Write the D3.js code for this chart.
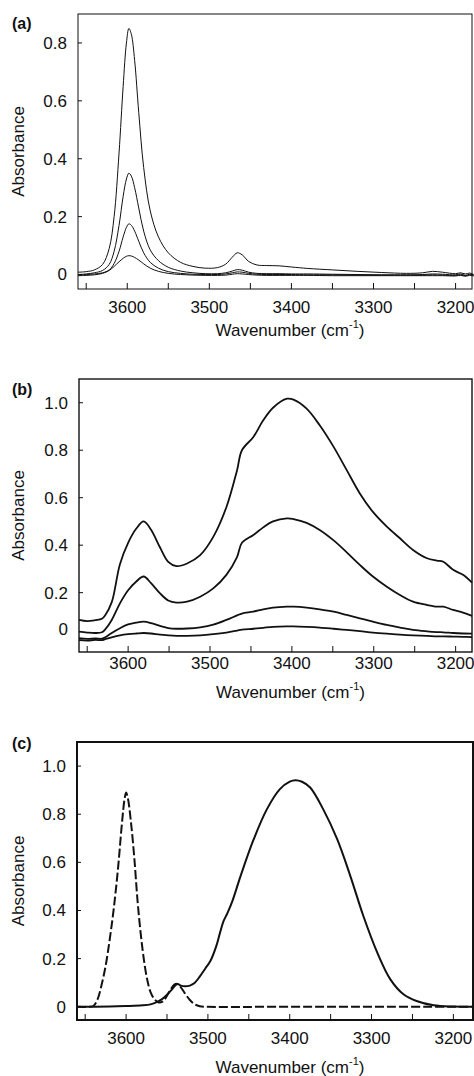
<!DOCTYPE html>
<html>
<head>
<meta charset="utf-8">
<script src="https://cdn.jsdelivr.net/npm/d3@7"></script>
<style>
  body { margin: 0; background: #fff; }
  svg text { font-family: "Liberation Sans", Arial, sans-serif; fill: #111; }
</style>
</head>
<body>
<svg></svg>
<script>
let w = 474;
let h = 1076;

// ---- panel (a) : four spectra, thin lines
var wnA = [3660,3650,3640,3630,3622,3616,3610,3605,3601,3598,3595,3591,3586,3580,3572,3562,3550,3535,3520,3505,3490,3480,3472,3466,3460,3452,3442,3430,3415,3400,3380,3350,3320,3290,3260,3240,3228,3216,3200,3194,3188,3183,3178];
var absA1 = [0.008,0.010,0.016,0.035,0.09,0.20,0.42,0.65,0.80,0.85,0.83,0.74,0.56,0.37,0.22,0.13,0.075,0.042,0.028,0.022,0.024,0.036,0.060,0.075,0.068,0.045,0.033,0.031,0.030,0.026,0.021,0.016,0.011,0.007,0.004,0.006,0.011,0.008,0.003,0.006,0.002,0.005,0.000];
var absA2 = [0.000,0.002,0.006,0.014,0.035,0.08,0.17,0.27,0.33,0.35,0.34,0.30,0.23,0.15,0.085,0.048,0.025,0.012,0.006,0.003,0.003,0.006,0.012,0.017,0.015,0.008,0.004,0.003,0.003,0.002,0.002,0.001,0.000,-0.001,-0.001,0.000,0.002,0.001,-0.001,0.002,-0.003,0.001,-0.002];
var absA3 = [-0.002,0.000,0.002,0.006,0.016,0.038,0.08,0.13,0.163,0.175,0.17,0.15,0.115,0.075,0.042,0.022,0.010,0.004,0.001,0.000,0.000,0.002,0.006,0.009,0.008,0.004,0.001,0.000,0.000,0.000,-0.001,-0.001,-0.002,-0.002,-0.002,-0.002,-0.001,-0.002,-0.003,-0.001,-0.004,-0.001,-0.003];
var absA4 = [-0.004,-0.003,-0.001,0.004,0.014,0.028,0.044,0.056,0.063,0.065,0.064,0.059,0.050,0.037,0.022,0.011,0.004,0.000,-0.002,-0.003,-0.003,-0.002,0.001,0.003,0.002,0.000,-0.002,-0.003,-0.003,-0.003,-0.003,-0.004,-0.004,-0.004,-0.004,-0.004,-0.004,-0.004,-0.005,-0.003,-0.006,-0.003,-0.005];

// ---- panel (b) : four spectra, thick lines
var wnB = [3660,3650,3640,3632,3628,3620,3610,3600,3590,3581,3572,3561,3551,3541,3528,3512,3496,3480,3467,3461,3447,3435,3423,3406,3398,3382,3366,3349,3333,3317,3301,3284,3268,3252,3235,3223,3215,3203,3191,3180];
var absB1 = [0.085,0.080,0.084,0.090,0.105,0.16,0.32,0.41,0.47,0.50,0.465,0.39,0.33,0.312,0.323,0.358,0.435,0.56,0.715,0.80,0.856,0.926,0.979,1.017,1.013,0.975,0.905,0.814,0.716,0.618,0.54,0.478,0.429,0.38,0.345,0.335,0.33,0.296,0.275,0.242];
var absB2 = [0.036,0.032,0.030,0.033,0.045,0.085,0.155,0.21,0.247,0.268,0.24,0.197,0.167,0.158,0.162,0.183,0.218,0.275,0.35,0.41,0.443,0.475,0.50,0.513,0.51,0.494,0.464,0.42,0.37,0.317,0.268,0.225,0.19,0.162,0.148,0.141,0.141,0.127,0.116,0.102];
var absB3 = [0.008,0.005,0.007,0.006,0.012,0.03,0.05,0.066,0.074,0.078,0.072,0.06,0.051,0.048,0.049,0.054,0.065,0.085,0.104,0.112,0.12,0.13,0.137,0.141,0.141,0.137,0.13,0.12,0.106,0.092,0.078,0.064,0.053,0.043,0.037,0.034,0.033,0.030,0.028,0.027];
var absB4 = [0.000,-0.002,0.001,0.000,0.004,0.012,0.02,0.025,0.028,0.030,0.028,0.023,0.020,0.018,0.018,0.020,0.025,0.032,0.040,0.044,0.048,0.052,0.056,0.058,0.058,0.056,0.053,0.048,0.043,0.038,0.032,0.027,0.023,0.020,0.018,0.016,0.016,0.015,0.014,0.013];

// ---- panel (c) : dashed and solid band
var wnCd = [3660,3645,3640,3635,3630,3625,3620,3615,3610,3605,3602,3600,3598,3594,3590,3586,3582,3578,3574,3570,3565,3560,3556,3552,3546,3541,3538,3534,3528,3522,3516,3510,3500,3400,3300,3176];
var absCd = [0,0,0.003,0.03,0.09,0.17,0.28,0.41,0.57,0.765,0.86,0.89,0.87,0.765,0.62,0.44,0.30,0.19,0.11,0.06,0.03,0.018,0.02,0.035,0.07,0.092,0.095,0.085,0.055,0.028,0.01,0.002,0,0,0,0];
var wnCs = [3660,3620,3600,3580,3570,3564,3556,3550,3545,3540,3537,3533,3528,3522,3516,3510,3503,3497,3490,3485,3481,3476,3470,3460,3444,3428,3412,3400,3393,3385,3375,3359,3342,3326,3310,3293,3277,3261,3245,3224,3200,3176];
var absCs = [0,0.001,0.003,0.006,0.01,0.017,0.032,0.05,0.068,0.088,0.095,0.088,0.085,0.088,0.10,0.125,0.16,0.19,0.25,0.31,0.355,0.39,0.44,0.544,0.696,0.82,0.904,0.935,0.941,0.935,0.911,0.82,0.696,0.544,0.377,0.225,0.114,0.052,0.024,0.006,0.001,0];

var xTicks = [3650,3600,3550,3500,3450,3400,3350,3300,3250,3200];
var xTickLabels = [3600,3500,3400,3300,3200];
var yTicksA = [0,0.2,0.4,0.6,0.8];
var yTicksBC = [0,0.2,0.4,0.6,0.8,1.0];

var panels = [
  { tag: "(a)", left: 78, right: 472, top: 14, bottom: 289, xDom: [3660, 3180], yDom: [-0.05, 0.9], yTicks: yTicksA,
    frame: 1, lw: 1, tickY: 307, labelY: 330, tagY: 23, zeroShift: 0,
    series: [[wnA, absA1, false], [wnA, absA2, false], [wnA, absA3, false], [wnA, absA4, false]] },
  { tag: "(b)", left: 79, right: 472, top: 379, bottom: 652, xDom: [3660, 3180], yDom: [-0.05, 1.1], yTicks: yTicksBC,
    frame: 1.4, lw: 1.8, tickY: 663, labelY: 692, tagY: 389, zeroShift: -11,
    series: [[wnB, absB1, false], [wnB, absB2, false], [wnB, absB3, false], [wnB, absB4, false]] },
  { tag: "(c)", left: 77, right: 473, top: 742, bottom: 1020, xDom: [3660, 3176], yDom: [-0.055, 1.1], yTicks: yTicksBC,
    frame: 2, lw: 2, tickY: 1038, labelY: 1067, tagY: 743, zeroShift: 0,
    series: [[wnCd, absCd, true], [wnCs, absCs, false]] }
];

var svg = d3.select("svg").attr("width", w).attr("height", h);

panels.forEach(function (p) {
  var x = d3.scaleLinear().domain(p.xDom).range([p.left, p.right]);
  var y = d3.scaleLinear().domain(p.yDom).range([p.bottom, p.top]);
  var g = svg.append("g");

  // spectra
  var line = d3.line()
    .x(function (d) { return x(d[0]); })
    .y(function (d) { return y(d[1]); })
    .curve(d3.curveCatmullRom.alpha(0.5));

  p.series.forEach(function (s) {
    var pts = s[0].map(function (v, i) { return [v, s[1][i]]; });
    g.append("path")
      .attr("d", line(pts))
      .attr("fill", "none")
      .attr("stroke", "#111")
      .attr("stroke-width", p.lw)
      .attr("stroke-dasharray", s[2] ? "9,3" : null);
  });

  // frame
  g.append("rect")
    .attr("x", p.left).attr("y", p.top)
    .attr("width", p.right - p.left).attr("height", p.bottom - p.top)
    .attr("fill", "none").attr("stroke", "#111").attr("stroke-width", p.frame);

  // bottom ticks, pointing inward
  g.selectAll(".xt").data(xTicks).enter().append("line")
    .attr("x1", function (d) { return x(d); }).attr("x2", function (d) { return x(d); })
    .attr("y1", p.bottom).attr("y2", p.bottom - 6)
    .attr("stroke", "#111").attr("stroke-width", 1);

  g.selectAll(".xl").data(xTickLabels).enter().append("text")
    .attr("x", function (d) { return x(d); })
    .attr("y", p.tickY).attr("dy", "0.35em")
    .attr("text-anchor", "middle").attr("font-size", 17)
    .text(function (d) { return d; });

  // left ticks
  g.selectAll(".yt").data(p.yTicks).enter().append("line")
    .attr("x1", p.left).attr("x2", p.left + 4)
    .attr("y1", function (d) { return y(d); }).attr("y2", function (d) { return y(d); })
    .attr("stroke", "#111").attr("stroke-width", 1);

  g.selectAll(".yl").data(p.yTicks).enter().append("text")
    .attr("x", p.left - 11)
    .attr("y", function (d) { return y(d) + (d === 0 ? p.zeroShift : 0); })
    .attr("dy", "0.35em")
    .attr("text-anchor", "end").attr("font-size", 17)
    .text(function (d) { return d === 0 ? "0" : d3.format(".1f")(d); });

  // axis titles
  g.append("text")
    .attr("transform", "translate(18," + (p.top + p.bottom) / 2 + ") rotate(-90)")
    .attr("dy", "0.35em")
    .attr("text-anchor", "middle").attr("font-size", 17)
    .text("Absorbance");

  var xt = g.append("text")
    .attr("x", (p.left + p.right) / 2 + 15).attr("y", p.labelY).attr("dy", "0.35em")
    .attr("text-anchor", "middle").attr("font-size", 17);
  xt.append("tspan").text("Wavenumber (cm");
  xt.append("tspan").attr("font-size", 11).attr("dy", "-0.7em").text("-1");
  xt.append("tspan").attr("dy", "0.45em").text(")");

  g.append("text")
    .attr("x", 12).attr("y", p.tagY).attr("dy", "0.35em")
    .attr("font-size", 16).attr("font-weight", "bold")
    .text(p.tag);
});
</script>
</body>
</html>
